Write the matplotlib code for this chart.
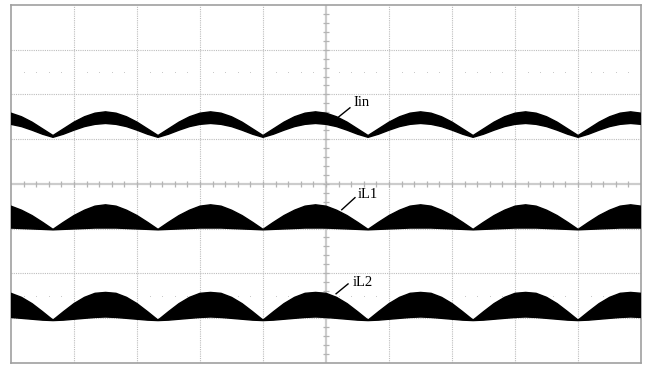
"""
Scope capture: input current Iin and the two inductor currents iL1, iL2
"""

import numpy as np
import matplotlib.pyplot as plt

# screen: 10 x 8 divisions, centre at (5, 0)
n_xdiv  = 10
n_ydiv  = 8

# one rectified half-cycle of each trace envelope (div)
phase      = [0.0, 0.1, 0.2, 0.3, 0.4, 0.5, 0.6, 0.7, 0.8, 0.9, 1.0]
iin_upper  = [1.08, 1.23, 1.38, 1.50, 1.58, 1.61, 1.58, 1.50, 1.38, 1.23, 1.08]
iin_lower  = [1.04, 1.11, 1.20, 1.28, 1.33, 1.35, 1.33, 1.28, 1.20, 1.11, 1.04]
il1_upper  = [-1.02, -0.86, -0.71, -0.59, -0.50, -0.47, -0.50, -0.59, -0.71, -0.86, -1.02]
il1_lower  = [-1.03, -1.02, -1.01, -1.00, -0.99, -0.99, -0.99, -1.00, -1.01, -1.02, -1.03]
il2_upper  = [-3.05, -2.86, -2.68, -2.54, -2.45, -2.43, -2.45, -2.54, -2.68, -2.86, -3.05]
il2_lower  = [-3.06, -3.05, -3.03, -3.01, -2.99, -2.98, -2.99, -3.01, -3.03, -3.05, -3.06]

# timing: 6 half-cycles over the screen, first minimum at 0.667 div
half_period = 1.667
first_min   = 0.667
n_half      = 8

labels = ['Iin', 'iL1', 'iL2']

grid_col   = '#bdbdbd'
centre_col = '#cccccc'
frame_col  = '#a0a0a0'


def tile(vals):
    # repeat one half-cycle envelope along the time axis
    v = np.array(vals)
    return np.concatenate([v[:-1]] * n_half + [v[-1:]])


ph = np.array(phase)
t  = np.concatenate([ph[:-1] + k for k in range(n_half)] + [ph[-1:] + n_half - 1])
t  = (first_min - half_period) + t*half_period

fig = plt.figure(figsize=(6.45, 3.65), dpi=100)
ax  = fig.add_axes([11/645, 2.4/365, 630/645, 357.6/365])
ax.set_xlim(0, n_xdiv)
ax.set_ylim(-n_ydiv/2, n_ydiv/2)

# dotted graticule
for x in range(1, n_xdiv):
    if x != n_xdiv//2:
        ax.axvline(x, color=grid_col, lw=0.8, ls=(0, (1, 1)), zorder=1)
for y in range(-n_ydiv//2 + 1, n_ydiv//2):
    if y != 0:
        ax.axhline(y, color=grid_col, lw=0.8, ls=(0, (1, 1)), zorder=1)

# centre cross with minor ticks
ax.axvline(n_xdiv/2, color=centre_col, lw=1.6, zorder=1)
ax.axhline(0, color=centre_col, lw=1.6, zorder=1)
minor_x = np.arange(0.2, n_xdiv, 0.2)
minor_y = np.arange(-n_ydiv/2 + 0.2, n_ydiv/2, 0.2)
ax.plot(minor_x, np.zeros_like(minor_x), ls='none', marker='|', ms=4,
        mew=0.9, color='#b4b4b4', zorder=1)
ax.plot(np.full_like(minor_y, n_xdiv/2), minor_y, ls='none', marker='_', ms=4,
        mew=0.9, color='#b4b4b4', zorder=1)

# reference dots rows
dots_x = np.array([x for x in np.arange(0.2, n_xdiv, 0.2) if abs(x - round(x)) > 0.05])
for yref in (2.5, -2.5):
    ax.plot(dots_x, np.full_like(dots_x, yref), ls='none', marker='s', ms=0.6,
            mew=0, color='#c4c4c4', zorder=1)

# traces
for up, lo in ((iin_upper, iin_lower), (il1_upper, il1_lower), (il2_upper, il2_lower)):
    ax.fill_between(t, tile(lo), tile(up), facecolor='black', edgecolor='black',
                    lw=1.0, zorder=3)

# labels with leader lines
lab_pos  = [(5.43, 1.81), (5.51, -0.25), (5.43, -2.21)]
lead_pos = [((5.16, 5.38), (1.45, 1.70)),
            ((5.25, 5.46), (-0.58, -0.31)),
            ((5.16, 5.35), (-2.46, -2.24))]
for lab, (tx, ty), (lx, ly) in zip(labels, lab_pos, lead_pos):
    ax.plot(lx, ly, color='black', lw=1.0, zorder=4)
    ax.text(tx, ty, lab, family='Liberation Serif', fontsize=10.5,
            ha='left', va='center', zorder=4)

ax.set_xticks([])
ax.set_yticks([])
for s in ax.spines.values():
    s.set_color(frame_col)
    s.set_linewidth(1.2)

fig.savefig('out.png', dpi=100)
